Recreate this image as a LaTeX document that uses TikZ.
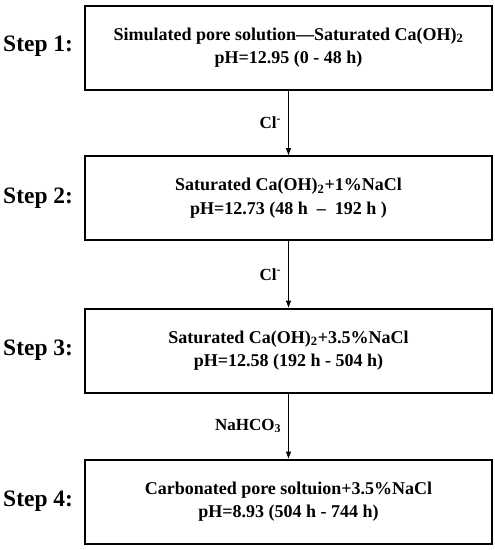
\documentclass[tikz,border=0pt]{standalone}
\usepackage{fontspec}
\setmainfont{Liberation Serif}
\usetikzlibrary{arrows.meta}
\tikzset{
  stepbox/.style={draw=black, line width=2pt, minimum width=407pt, minimum height=84pt,
    align=center, inner sep=0pt, font=\bfseries\fontsize{18}{23.5}\selectfont},
  steplabel/.style={anchor=base west, inner sep=0pt, font=\bfseries\fontsize{23.5}{28}\selectfont},
  flow/.style={line width=1pt, -{Triangle[length=7pt,width=5pt]}},
  flowlabel/.style={anchor=east, inner sep=0pt, font=\bfseries\fontsize{17}{20}\selectfont}
}
\begin{document}
\begin{tikzpicture}[x=1pt,y=1pt]
\useasboundingbox (0,0) rectangle (495,-550);
\node[stepbox] (b1) at (288.5,-47.5) {Simulated pore solution—Saturated Ca(OH)\textsubscript{2}\\pH=12.95 (0 - 48 h)};
\node[stepbox] (b2) at (288.5,-198) {Saturated Ca(OH)\textsubscript{2}+1\%NaCl\\pH=12.73 (48 h\enspace –\enspace 192 h )};
\node[stepbox] (b3) at (288.5,-350.5) {Saturated Ca(OH)\textsubscript{2}+3.5\%NaCl\\pH=12.58 (192 h - 504 h)};
\node[stepbox] (b4) at (288.5,-501.5) {Carbonated pore soltuion+3.5\%NaCl\\pH=8.93 (504 h - 744 h)};
\node[steplabel] (s1) at (3,-51.5) {Step 1:};
\node[steplabel] (s2) at (3,-203) {Step 2:};
\node[steplabel] (s3) at (3,-355.5) {Step 3:};
\node[steplabel] (s4) at (3,-506.5) {Step 4:};
\draw[flow] (b1) -- (b2) node[flowlabel, pos=0.5, xshift=-7pt] (l1) {Cl\textsuperscript{-}};
\draw[flow] (b2) -- (b3) node[flowlabel, pos=0.5, xshift=-7pt] (l2) {Cl\textsuperscript{-}};
\draw[flow] (b3) -- (b4) node[flowlabel, pos=0.5, xshift=-7pt] (l3) {NaHCO\textsubscript{3}};
\end{tikzpicture}
\end{document}
